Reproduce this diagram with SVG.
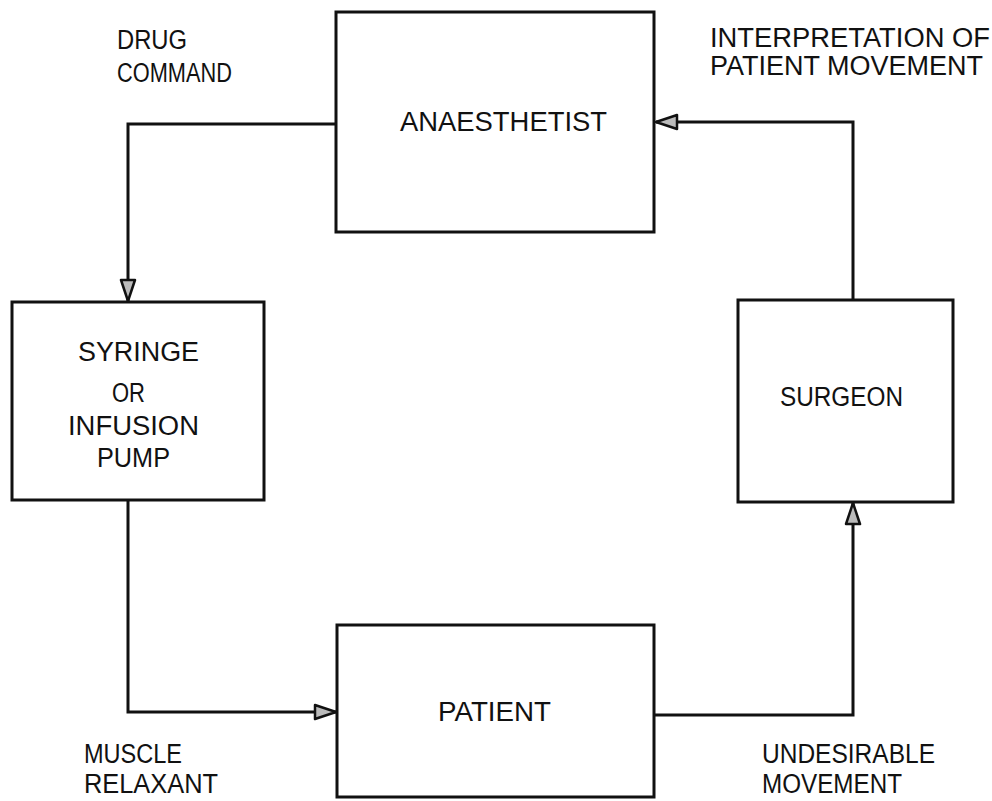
<svg xmlns="http://www.w3.org/2000/svg" width="992" height="801" viewBox="0 0 992 801">
<defs>
<style>
.box{fill:none;stroke:#111;stroke-width:3}
.ln{fill:none;stroke:#111;stroke-width:3}
.t{font-family:"Liberation Sans",Arial,sans-serif;font-size:27px;fill:#111}
.ah{fill:#bbb;stroke:#111;stroke-width:2.5;stroke-linejoin:round}
</style>
<marker id="arr" viewBox="0 0 24 18" refX="23" refY="9" markerWidth="24" markerHeight="18" markerUnits="userSpaceOnUse" orient="auto">
<path class="ah" d="M2,2 L23,9 L2,16 Z"/>
</marker>
</defs>
<rect width="992" height="801" fill="#fff"/>
<g id="connectors">
<path class="ln" d="M336,124 H128 V301" marker-end="url(#arr)"/>
<path class="ln" d="M128,500 V712 H336" marker-end="url(#arr)"/>
<path class="ln" d="M654,715 H853 V503" marker-end="url(#arr)"/>
<path class="ln" d="M853,300 V122 H656" marker-end="url(#arr)"/>
</g>
<g id="anaesthetist">
<rect class="box" x="336" y="12" width="318" height="220"/>
<text class="t" x="400" y="131" textLength="207" lengthAdjust="spacingAndGlyphs">ANAESTHETIST</text>
</g>
<g id="syringe">
<rect class="box" x="12" y="302" width="252" height="198"/>
<text class="t" x="78" y="361" textLength="121" lengthAdjust="spacingAndGlyphs">SYRINGE</text>
<text class="t" x="112" y="402" textLength="33" lengthAdjust="spacingAndGlyphs">OR</text>
<text class="t" x="68" y="435" textLength="131" lengthAdjust="spacingAndGlyphs">INFUSION</text>
<text class="t" x="97" y="467" textLength="73" lengthAdjust="spacingAndGlyphs">PUMP</text>
</g>
<g id="surgeon">
<rect class="box" x="738" y="300" width="215" height="202"/>
<text class="t" x="780" y="406" textLength="123" lengthAdjust="spacingAndGlyphs">SURGEON</text>
</g>
<g id="patient">
<rect class="box" x="337" y="625" width="317" height="172"/>
<text class="t" x="438" y="721" textLength="113" lengthAdjust="spacingAndGlyphs">PATIENT</text>
</g>
<g id="labels">
<text class="t" x="117" y="49" textLength="70" lengthAdjust="spacingAndGlyphs">DRUG</text>
<text class="t" x="117" y="82" textLength="115" lengthAdjust="spacingAndGlyphs">COMMAND</text>
<text class="t" x="710" y="47" textLength="280" lengthAdjust="spacingAndGlyphs">INTERPRETATION OF</text>
<text class="t" x="710" y="75" textLength="273" lengthAdjust="spacingAndGlyphs">PATIENT MOVEMENT</text>
<text class="t" x="84" y="763" textLength="98" lengthAdjust="spacingAndGlyphs">MUSCLE</text>
<text class="t" x="84" y="793" textLength="134" lengthAdjust="spacingAndGlyphs">RELAXANT</text>
<text class="t" x="762" y="763" textLength="173" lengthAdjust="spacingAndGlyphs">UNDESIRABLE</text>
<text class="t" x="762" y="793" textLength="140" lengthAdjust="spacingAndGlyphs">MOVEMENT</text>
</g>
</svg>
